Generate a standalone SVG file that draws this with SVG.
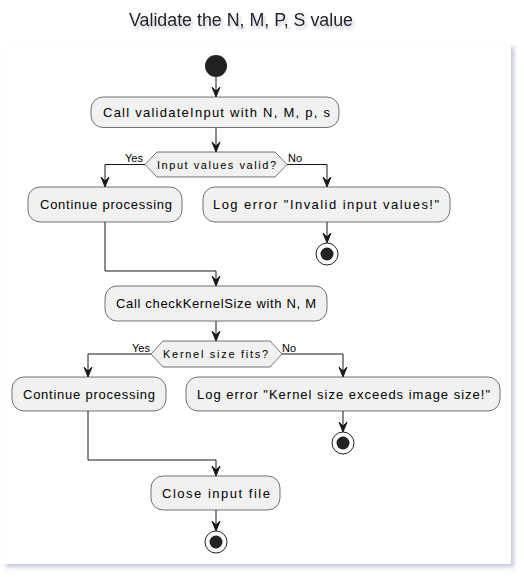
<svg xmlns="http://www.w3.org/2000/svg" width="524" height="577" viewBox="0 0 524 577">
<style>
.box{fill:#F1F1F1;stroke:#181818;stroke-width:0.6}
.t{font-family:"Liberation Sans",Arial,sans-serif;font-size:13px;fill:#000}
.d{font-family:"Liberation Sans",Arial,sans-serif;font-size:11px;fill:#000}
.l{font-family:"Liberation Sans",Arial,sans-serif;font-size:11px;fill:#000}
.ln{fill:none;stroke:#181818;stroke-width:1}
.ah{fill:#181818;stroke:#181818;stroke-width:1}
</style>
<defs>
<filter id="sh" x="-5%" y="-5%" width="110%" height="110%">
<feGaussianBlur in="SourceAlpha" stdDeviation="2"/>
<feOffset dx="3" dy="3" result="b"/>
<feFlood flood-color="#9aa0c0" flood-opacity="0.6"/>
<feComposite in2="b" operator="in"/>
<feMerge><feMergeNode/><feMergeNode in="SourceGraphic"/></feMerge>
</filter>
<filter id="tsh" x="-10%" y="-30%" width="120%" height="160%">
<feGaussianBlur in="SourceAlpha" stdDeviation="1.5"/>
<feOffset dx="2" dy="3" result="b"/>
<feFlood flood-color="#8890b0" flood-opacity="0.5"/>
<feComposite in2="b" operator="in"/>
<feMerge><feMergeNode/><feMergeNode in="SourceGraphic"/></feMerge>
</filter>
</defs>
<rect x="0" y="0" width="524" height="577" fill="#fff"/>
<rect x="3" y="44" width="508" height="520" fill="#fff" filter="url(#sh)"/>
<text x="129" y="26" font-family="Liberation Sans,Arial,sans-serif" font-size="18" fill="#222" textLength="224" lengthAdjust="spacingAndGlyphs" filter="url(#tsh)">Validate the N, M, P, S value</text>

<g id="connectors">
<path class="ln" d="M216,77 V95"/>
<path class="ah" d="M216,97 L212,87 L216,91 L220,87 Z"/>
<path class="ln" d="M216,127 V150"/>
<path class="ah" d="M216,152 L212,142 L216,146 L220,142 Z"/>
<path class="ln" d="M145,164.5 H105 V185"/>
<path class="ah" d="M105,187 L101,177 L105,181 L109,177 Z"/>
<path class="ln" d="M287,164.5 H327 V185"/>
<path class="ah" d="M327,187 L323,177 L327,181 L331,177 Z"/>
<path class="ln" d="M327,222 V241"/>
<path class="ah" d="M327,243 L323,233 L327,237 L331,233 Z"/>
<path class="ln" d="M105,222 V271 H216 V284"/>
<path class="ah" d="M216,286 L212,276 L216,280 L220,276 Z"/>
<path class="ln" d="M216,321 V339"/>
<path class="ah" d="M216,341 L212,331 L216,335 L220,331 Z"/>
<path class="ln" d="M151,354 H88 V375"/>
<path class="ah" d="M88,377 L84,367 L88,371 L92,367 Z"/>
<path class="ln" d="M282,354 H343 V375"/>
<path class="ah" d="M343,377 L339,367 L343,371 L347,367 Z"/>
<path class="ln" d="M343,411 V430"/>
<path class="ah" d="M343,432 L339,422 L343,426 L347,422 Z"/>
<path class="ln" d="M88,411 V460 H216 V474"/>
<path class="ah" d="M216,476 L212,466 L216,470 L220,466 Z"/>
<path class="ln" d="M216,510 V529"/>
<path class="ah" d="M216,531 L212,521 L216,525 L220,521 Z"/>
<text class="l" x="125" y="162">Yes</text>
<text class="l" x="288" y="162">No</text>
<text class="l" x="132" y="352">Yes</text>
<text class="l" x="282" y="352">No</text>
</g>

<g id="start"><circle cx="216" cy="66" r="11" fill="#222"/></g>

<g id="n1"><rect class="box" x="91" y="97" width="248" height="30.5" rx="12"/>
<text class="t" x="103" y="117" textLength="227" lengthAdjust="spacing">Call validateInput with N, M, p, s</text></g>

<g id="d1"><polygon class="box" points="145,164.5 157,152 275,152 287,164.5 275,177 157,177"/>
<text class="d" x="157" y="168.5" textLength="119" lengthAdjust="spacing">Input values valid?</text></g>

<g id="n2"><rect class="box" x="28" y="187" width="154" height="35" rx="12"/>
<text class="t" x="40" y="209" textLength="132" lengthAdjust="spacing">Continue processing</text></g>

<g id="n3"><rect class="box" x="203" y="187" width="247" height="35" rx="12"/>
<text class="t" x="213" y="209" textLength="226" lengthAdjust="spacing">Log error "Invalid input values!"</text></g>

<g id="end1"><circle cx="327" cy="254" r="11" fill="#fff" stroke="#222" stroke-width="1"/><circle cx="327" cy="254" r="6.5" fill="#222"/></g>

<g id="n4"><rect class="box" x="105" y="286" width="222" height="35" rx="12"/>
<text class="t" x="116" y="308" textLength="200" lengthAdjust="spacing">Call checkKernelSize with N, M</text></g>

<g id="d2"><polygon class="box" points="151,354 163,341 270,341 282,354 270,367 163,367"/>
<text class="d" x="163" y="358" textLength="105" lengthAdjust="spacing">Kernel size fits?</text></g>

<g id="n5"><rect class="box" x="12" y="377" width="154" height="34" rx="12"/>
<text class="t" x="23" y="398.5" textLength="132" lengthAdjust="spacing">Continue processing</text></g>

<g id="n6"><rect class="box" x="186" y="377" width="314" height="34" rx="12"/>
<text class="t" x="197" y="398.5" textLength="293" lengthAdjust="spacing">Log error "Kernel size exceeds image size!"</text></g>

<g id="end2"><circle cx="343" cy="443" r="11" fill="#fff" stroke="#222" stroke-width="1"/><circle cx="343" cy="443" r="6.5" fill="#222"/></g>

<g id="n7"><rect class="box" x="151" y="476" width="129" height="34" rx="12"/>
<text class="t" x="162" y="497.5" textLength="108" lengthAdjust="spacing">Close input file</text></g>

<g id="end3"><circle cx="216" cy="542" r="11" fill="#fff" stroke="#222" stroke-width="1"/><circle cx="216" cy="542" r="6.5" fill="#222"/></g>
</svg>
